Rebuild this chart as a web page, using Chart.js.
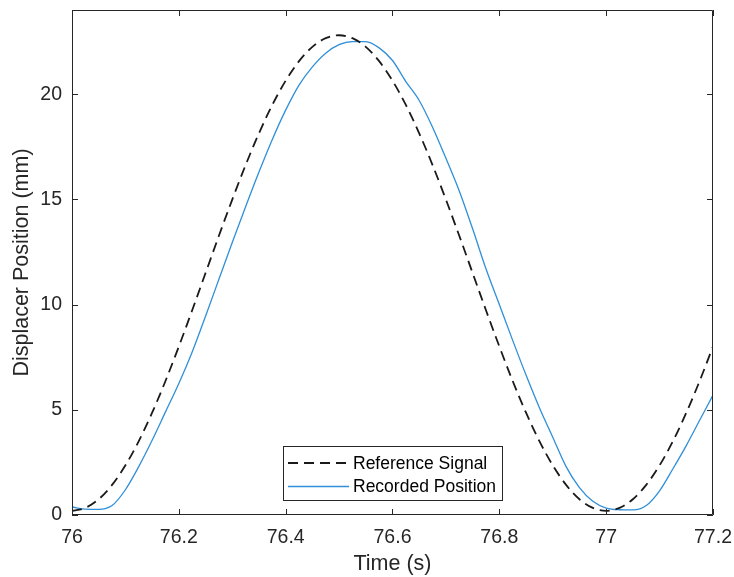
<!DOCTYPE html>
<html lang="en">
<head>
    <meta charset="UTF-8">
    <title>Displacer Position</title>
    <script src="https://cdn.jsdelivr.net/npm/chart.js@4.4.1/dist/chart.umd.min.js"></script>
    <style>
        * { margin: 0; padding: 0; box-sizing: border-box; }
        body { background: #fff; width: 734px; height: 577px; overflow: hidden; }
        canvas { display: block; }
    </style>
</head>
<body>
    <canvas id="chart" width="734" height="577"></canvas>
    <script>
        // time samples (s)
        const times = [
            76.000, 76.025, 76.050, 76.075, 76.100, 76.125, 76.150, 76.175,
            76.200, 76.225, 76.250, 76.275, 76.300, 76.325, 76.350, 76.375,
            76.400, 76.425, 76.450, 76.475, 76.500, 76.525, 76.550, 76.575,
            76.600, 76.625, 76.650, 76.675, 76.700, 76.725, 76.750, 76.775,
            76.800, 76.825, 76.850, 76.875, 76.900, 76.925, 76.950, 76.975,
            77.000, 77.025, 77.050, 77.075, 77.100, 77.125, 77.150, 77.175,
            77.200
        ];
        // reference signal (mm)
        const refValues = [
            0.20, 0.34, 0.75, 1.43, 2.36, 3.51, 4.86, 6.37,
            8.01, 9.73, 11.50, 13.27, 14.99, 16.63, 18.14, 19.49,
            20.64, 21.57, 22.25, 22.66, 22.80, 22.66, 22.25, 21.57,
            20.64, 19.49, 18.14, 16.63, 14.99, 13.27, 11.50, 9.73,
            8.01, 6.37, 4.86, 3.51, 2.36, 1.43, 0.75, 0.34,
            0.20, 0.34, 0.75, 1.43, 2.36, 3.51, 4.86, 6.37,
            8.01
        ];
        // recorded position (mm)
        const recValues = [
            0.38, 0.28, 0.27, 0.45, 1.20, 2.30, 3.55, 4.90,
            6.25, 7.75, 9.45, 11.20, 12.95, 14.65, 16.30, 17.85,
            19.24, 20.43, 21.30, 21.95, 22.35, 22.50, 22.50, 22.20,
            21.60, 20.60, 19.70, 18.43, 16.95, 15.40, 13.60, 11.70,
            10.00, 8.30, 6.65, 5.10, 3.70, 2.30, 1.30, 0.65,
            0.33, 0.25, 0.24, 0.45, 1.15, 2.20, 3.30, 4.50,
            5.70
        ];
        const seriesNames = ['Reference Signal', 'Recorded Position'];
        const xTicks = [76, 76.2, 76.4, 76.6, 76.8, 77, 77.2];
        const yTicks = [0, 5, 10, 15, 20];

        const axisColor = '#262626';
        const fontFamily = "'Liberation Sans', Arial, sans-serif";

        // box + inward ticks on all four sides, like the original
        const framePlugin = {
            id: 'frame',
            afterDraw(chart) {
                const { ctx, chartArea: a, scales } = chart;
                ctx.save();
                ctx.strokeStyle = axisColor;
                ctx.lineWidth = 1;
                ctx.beginPath();
                ctx.rect(a.left + 0.5, a.top + 0.5, a.right - a.left - 1, a.bottom - a.top - 1);
                ctx.stroke();
                const len = 6;
                ctx.beginPath();
                scales.x.ticks.forEach(t => {
                    const px = Math.round(scales.x.getPixelForValue(t.value)) + 0.5;
                    ctx.moveTo(px, a.bottom); ctx.lineTo(px, a.bottom - len);
                    ctx.moveTo(px, a.top); ctx.lineTo(px, a.top + len);
                });
                scales.y.ticks.forEach(t => {
                    const py = Math.round(scales.y.getPixelForValue(t.value)) + 0.5;
                    ctx.moveTo(a.left, py); ctx.lineTo(a.left + len, py);
                    ctx.moveTo(a.right, py); ctx.lineTo(a.right - len, py);
                });
                ctx.stroke();
                ctx.restore();
            }
        };

        // legend box inside the axes, bottom centre
        const legendPlugin = {
            id: 'boxLegend',
            afterDraw(chart) {
                const { ctx } = chart;
                const x0 = 283, y0 = 446, w = 219, h = 54;
                ctx.save();
                ctx.fillStyle = '#fff';
                ctx.fillRect(x0, y0, w, h);
                ctx.strokeStyle = axisColor;
                ctx.lineWidth = 1;
                ctx.strokeRect(x0 + 0.5, y0 + 0.5, w, h);
                ctx.font = '17.5px ' + fontFamily;
                ctx.textBaseline = 'middle';
                chart.data.datasets.forEach((ds, i) => {
                    const y = y0 + 17 + i * 23.5;
                    ctx.strokeStyle = ds.borderColor;
                    ctx.lineWidth = ds.borderWidth;
                    ctx.setLineDash(ds.borderDash || []);
                    ctx.beginPath();
                    ctx.moveTo(x0 + 5, y); ctx.lineTo(x0 + 66, y);
                    ctx.stroke();
                    ctx.setLineDash([]);
                    ctx.fillStyle = '#000';
                    ctx.fillText(ds.label, x0 + 70, y + 1);
                });
                ctx.restore();
            }
        };

        new Chart(document.getElementById('chart'), {
            type: 'line',
            data: {
                datasets: [
                    {
                        label: seriesNames[0],
                        data: times.map((t, i) => ({ x: t, y: refValues[i] })),
                        borderColor: '#1a1a1a',
                        borderWidth: 1.8,
                        borderDash: [10, 6],
                        pointRadius: 0,
                        cubicInterpolationMode: 'monotone',
                        fill: false
                    },
                    {
                        label: seriesNames[1],
                        data: times.map((t, i) => ({ x: t, y: recValues[i] })),
                        borderColor: '#2f8fd8',
                        borderWidth: 1.3,
                        pointRadius: 0,
                        cubicInterpolationMode: 'monotone',
                        fill: false
                    }
                ]
            },
            options: {
                responsive: false,
                animation: false,
                devicePixelRatio: 1,
                layout: { padding: { left: 0, top: 10, right: 21, bottom: 0 } },
                plugins: {
                    legend: { display: false },
                    tooltip: { enabled: false }
                },
                scales: {
                    x: {
                        type: 'linear',
                        min: 76,
                        max: 77.2,
                        afterFit(scale) {
                            scale.height = 62;
                            scale.paddingLeft = 0;
                            scale.paddingRight = 0;
                        },
                        afterBuildTicks(scale) { scale.ticks = xTicks.map(v => ({ value: v })); },
                        grid: { display: false, drawTicks: false },
                        border: { display: false },
                        ticks: {
                            padding: 11,
                            autoSkip: false,
                            color: axisColor,
                            font: { family: fontFamily, size: 19.5 },
                            maxRotation: 0,
                            callback: v => String(Number(v.toFixed(1)))
                        },
                        title: {
                            display: true,
                            text: 'Time (s)',
                            color: axisColor,
                            font: { family: fontFamily, size: 21.5 },
                            padding: { top: 0, bottom: 0 }
                        }
                    },
                    y: {
                        type: 'linear',
                        min: 0,
                        max: 24,
                        afterFit(scale) {
                            scale.width = 72;
                            scale.paddingTop = 0;
                            scale.paddingBottom = 0;
                        },
                        afterBuildTicks(scale) { scale.ticks = yTicks.map(v => ({ value: v })); },
                        grid: { display: false, drawTicks: false },
                        border: { display: false },
                        ticks: {
                            padding: 10,
                            autoSkip: false,
                            color: axisColor,
                            font: { family: fontFamily, size: 19.5 }
                        },
                        title: {
                            display: true,
                            text: 'Displacer Position (mm)',
                            color: axisColor,
                            font: { family: fontFamily, size: 21.5 },
                            padding: { top: 9, bottom: 0 }
                        }
                    }
                }
            },
            plugins: [framePlugin, legendPlugin]
        });
    </script>
</body>
</html>
